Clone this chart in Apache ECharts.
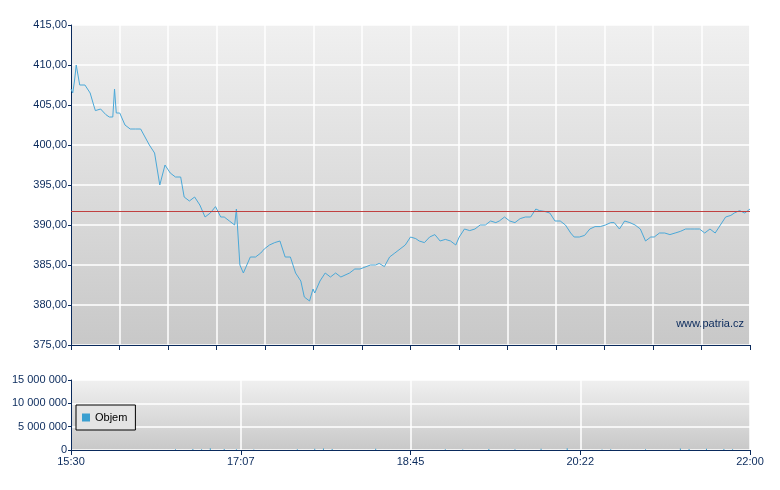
<!DOCTYPE html><html><head><meta charset="utf-8"><script src="https://cdn.jsdelivr.net/npm/echarts@6/dist/echarts.min.js"></script></head><body style="margin:0"><div id="c" style="width:780px;height:490px"></div><script>
const times=[0,1,2,3,5,8,11,13,14,17,20,22,24,25,26,28,31,34,37,40,45,48,51,54,57,60,63,65,68,71,74,77,80,83,86,88,91,94,95,97,99,100,103,106,109,111,114,117,120,123,126,129,132,134,137,139,140,143,146,149,152,155,160,163,166,172,175,177,180,183,186,189,192,195,198,200,203,206,209,212,215,218,221,223,226,229,232,235,238,241,244,246,249,252,255,258,261,264,267,269,272,275,278,281,284,287,289,292,295,298,301,304,307,310,312,315,318,321,324,327,330,333,335,338,341,344,347,350,353,356,358,361,364,367,370,373,376,379,381,384,387,390];
const prices=[407,406.5,408,410,407.5,407.5,406.5,405,404.3,404.5,403.8,403.5,403.5,407,404,404,402.5,402,402,402,400,399,395,397.5,396.5,396,396,393.5,393,393.5,392.5,391,391.5,392.3,391,391,390.5,390,392,385,384,384,386,386,386.5,387,387.5,387.8,388,386,386,384,383,381,380.5,382,381.5,383,384,383.5,384,383.5,384,384.5,384.5,385,385,385.2,384.8,386,386.5,387,387.5,388.5,388.3,388,387.8,388.5,388.8,388,388.2,388,387.5,388.5,389.5,389.3,389.5,390,390,390.5,390.3,390.5,391,390.5,390.3,390.8,391,391,392,391.8,391.7,391.5,390.5,390.5,390,389,388.5,388.5,388.7,389.5,389.8,389.8,390,390.3,390.3,389.5,390.5,390.3,390,389.5,388,388.5,388.5,389,389,388.8,389,389.2,389.5,389.5,389.5,389.5,389,389.5,389,390,391,391.2,391.5,391.8,391.5,392];
const refPrice=391.7;
const volTimes=[60,70,75,80,88,95,105,130,140,145,150,175,215,225,240,255,270,285,305,310,330,350,355,365,375,380];
const volValues=[150000,200000,180000,350000,200000,150000,120000,180000,250000,300000,200000,250000,150000,120000,200000,180000,250000,400000,120000,150000,180000,300000,200000,250000,200000,180000];
const priceTicks=[375,415,5];
const volTicks=[0,15000000,5000000];
const bg={type:'linear',x:0,y:0,x2:0,y2:1,colorStops:[{offset:0,color:'#f0f0f0'},{offset:1,color:'#c8c8c8'}]};
const ax='#0a2a5c';
const fmtT=v=>{const m=Math.floor(930+v);return Math.floor(m/60)+':'+String(m%60).padStart(2,'0');};
const c=echarts.init(document.getElementById('c'));
c.setOption({animation:false,
grid:[{left:71,right:30,top:25,height:320,show:true,backgroundColor:bg,borderWidth:0},
{left:71,right:30,top:380,height:70,show:true,backgroundColor:bg,borderWidth:0}],
xAxis:[{gridIndex:0,type:'value',min:0,max:390,interval:390/14,axisLabel:{show:false},axisLine:{lineStyle:{color:ax}},axisTick:{lineStyle:{color:ax},length:5},splitLine:{lineStyle:{color:'#fff',width:1.5}}},
{gridIndex:1,type:'value',min:0,max:390,interval:97.5,axisLabel:{formatter:fmtT,color:ax,fontFamily:'Liberation Sans',fontSize:11,margin:6},axisLine:{lineStyle:{color:ax}},axisTick:{lineStyle:{color:ax},length:5},splitLine:{lineStyle:{color:'#fff',width:1.5}}}],
yAxis:[{gridIndex:0,type:'value',min:priceTicks[0],max:priceTicks[1],interval:priceTicks[2],axisLabel:{formatter:v=>v.toFixed(2).replace('.',','),color:ax,fontFamily:'Liberation Sans',fontSize:11,margin:4},axisLine:{show:true,lineStyle:{color:ax}},axisTick:{show:true,length:3,lineStyle:{color:ax}},splitLine:{lineStyle:{color:'#fff',width:1.5}}},
{gridIndex:1,type:'value',min:volTicks[0],max:volTicks[1],interval:volTicks[2],axisLabel:{formatter:v=>String(v).replace(/\B(?=(\d{3})+(?!\d))/g,' '),color:ax,fontFamily:'Liberation Sans',fontSize:11,margin:4},axisLine:{show:true,lineStyle:{color:ax}},axisTick:{show:true,length:3,lineStyle:{color:ax}},splitLine:{lineStyle:{color:'#fff',width:1.5}}}],
legend:{data:['Objem'],left:76,top:405,orient:'vertical',backgroundColor:'#e4e4e4',borderColor:'#000',borderWidth:1,padding:[7,8,7,6],itemWidth:8,itemHeight:8,icon:'rect',textStyle:{fontFamily:'Liberation Sans',fontSize:11,color:'#000'},itemGap:4},
series:[{type:'line',xAxisIndex:0,yAxisIndex:0,data:times.map((t,i)=>[t,prices[i]]),showSymbol:false,lineStyle:{color:'#4aa8d8',width:1},itemStyle:{color:'#4aa8d8'},
markLine:{silent:true,symbol:'none',label:{show:false},lineStyle:{color:'#c04040',type:'solid',width:1,opacity:1},data:[{yAxis:refPrice,lineStyle:{color:'#c04040',type:'solid',width:1}}]}},
{name:'Objem',type:'bar',xAxisIndex:1,yAxisIndex:1,barWidth:1,data:volTimes.map((t,i)=>[t,volValues[i]]),itemStyle:{color:'#3a9fd0',borderColor:'#000',borderWidth:0}}],
graphic:[{type:'text',right:36,top:318,style:{text:'www.patria.cz',font:'11px Liberation Sans',fill:'#0a2a5c'}}]
});
</script></body></html>
